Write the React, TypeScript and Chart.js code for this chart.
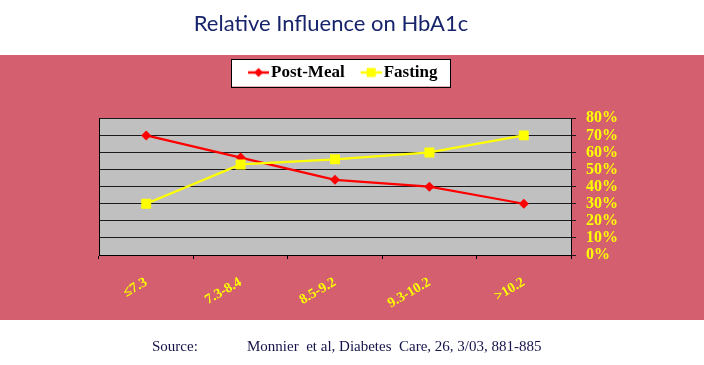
import { useEffect, useRef } from 'react';
import { Chart, registerables } from 'chart.js';

Chart.register(...registerables);

const chartTitle = 'Relative Influence on HbA1c';
const categories = ['≤7.3', '7.3-8.4', '8.5-9.2', '9.3-10.2', '>10.2'];
const seriesNames = ['Post-Meal', 'Fasting'];
const postMeal = [70, 57, 44, 40, 30];
const fasting = [30, 53, 56, 60, 70];
const yMin = 0;
const yMax = 80;
const yStep = 10;
const sourceLabel = 'Source:';
const sourceText = 'Monnier  et al, Diabetes  Care, 26, 3/03, 881-885';

const PINK = '#D35F6F';
const GRAY = '#C0C0C0';
const RED = '#FF0000';
const YELLOW = '#FFFF00';

function makeIcon(color: string, shape: 'diamond' | 'square') {
  const c = document.createElement('canvas');
  c.width = 29;
  c.height = 12;
  const g = c.getContext('2d')!;
  g.strokeStyle = color;
  g.lineWidth = 2.5;
  g.beginPath();
  g.moveTo(8, 6);
  g.lineTo(29, 6);
  g.stroke();
  g.fillStyle = color;
  const cx = 18.5;
  if (shape === 'diamond') {
    g.beginPath();
    g.moveTo(cx, 1.5);
    g.lineTo(cx + 4.5, 6);
    g.lineTo(cx, 10.5);
    g.lineTo(cx - 4.5, 6);
    g.closePath();
    g.fill();
  } else {
    g.fillRect(cx - 4.5, 1.5, 9, 9);
  }
  return c;
}

const decorPlugin = {
  id: 'decor',
  beforeDraw(chart: any) {
    const { ctx, chartArea, width, height } = chart;
    ctx.save();
    ctx.fillStyle = '#FFFFFF';
    ctx.fillRect(0, 0, width, height);
    ctx.fillStyle = PINK;
    ctx.fillRect(0, 55, width, 265);
    ctx.fillStyle = GRAY;
    ctx.fillRect(chartArea.left, chartArea.top, chartArea.right - chartArea.left, chartArea.bottom - chartArea.top);
    const hb = chart.legend && chart.legend.legendHitBoxes;
    if (hb && hb.length) {
      const l = Math.min(...hb.map((h: any) => h.left)) - 15.5;
      const r = Math.max(...hb.map((h: any) => h.left + h.width)) + 13;
      const t = Math.min(...hb.map((h: any) => h.top)) - 5;
      const b = Math.max(...hb.map((h: any) => h.top + h.height)) + 5.5;
      ctx.fillStyle = '#FFFFFF';
      ctx.fillRect(l, t, r - l, b - t);
      ctx.strokeStyle = '#000';
      ctx.lineWidth = 1;
      ctx.strokeRect(Math.round(l) + 0.5, Math.round(t) + 0.5, Math.round(r - l), Math.round(b - t));
    }
    ctx.restore();
  },
  afterDraw(chart: any) {
    const { ctx } = chart;
    ctx.save();
    ctx.fillStyle = '#17246B';
    ctx.font = '22px Lato';
    ctx.textAlign = 'center';
    ctx.textBaseline = 'alphabetic';
    ctx.fillText(chartTitle, 331, 31);
    ctx.fillStyle = '#14144A';
    ctx.font = '15px "Liberation Serif"';
    ctx.textAlign = 'left';
    ctx.fillText(sourceLabel, 152, 351);
    ctx.fillText(sourceText, 247, 351);
    ctx.restore();
  },
};

export default function App() {
  const ref = useRef<HTMLCanvasElement>(null);
  useEffect(() => {
    document.body.style.margin = '0';
    const icons = [makeIcon(RED, 'diamond'), makeIcon(YELLOW, 'square')];
    const chart = new Chart(ref.current!, {
      type: 'line',
      data: {
        labels: categories,
        datasets: [
          {
            label: seriesNames[0],
            data: postMeal,
            borderColor: RED,
            backgroundColor: RED,
            borderWidth: 2.25,
            pointStyle: 'rectRot',
            pointRadius: 5,
            pointBorderWidth: 0,
            pointBackgroundColor: RED,
            tension: 0,
            order: 1,
            xAxisID: 'x',
            yAxisID: 'y',
          },
          {
            label: seriesNames[1],
            data: fasting,
            borderColor: YELLOW,
            backgroundColor: YELLOW,
            borderWidth: 2.25,
            pointStyle: 'rect',
            pointRadius: 7,
            pointBorderWidth: 0,
            pointBackgroundColor: YELLOW,
            tension: 0,
            order: 0,
            xAxisID: 'x',
            yAxisID: 'y',
          },
        ],
      },
      options: {
        responsive: false,
        animation: false,
        devicePixelRatio: 1,
        layout: { padding: { top: 49.5, left: 58, right: 78, bottom: 50 } },
        plugins: {
          title: { display: false },
          tooltip: { enabled: false },
          legend: {
            display: true,
            position: 'top',
            labels: {
              usePointStyle: true,
              pointStyleWidth: 16,
              padding: 14.5,
              color: '#000',
              font: { family: '"Liberation Serif"', size: 17, weight: 'bold' },
              generateLabels: (c: any) =>
                c.data.datasets.map((ds: any, i: number) => ({
                  text: ds.label,
                  pointStyle: icons[i],
                  fillStyle: ds.borderColor,
                  strokeStyle: ds.borderColor,
                  lineWidth: 0,
                  hidden: false,
                  datasetIndex: i,
                  fontColor: '#000',
                })),
            },
          },
        },
        scales: {
          x: {
            type: 'category',
            position: 'bottom',
            offset: true,
            grid: { display: true, drawOnChartArea: false, drawTicks: true, tickLength: 4, color: '#000', offset: true },
            border: { display: true, color: '#000', width: 1 },
            ticks: {
              color: YELLOW,
              font: { family: '"Liberation Serif"', size: 14, weight: 'bold' },
              minRotation: 30,
              maxRotation: 30,
              padding: 15,
              autoSkip: false,
            },
            afterFit: (s: any) => {
              s.height = 60;
            },
          },
          xTop: {
            type: 'category',
            position: 'top',
            display: true,
            grid: { display: false },
            border: { display: false },
            ticks: { display: false },
            afterFit: (s: any) => {
              s.height = 27.3;
            },
          },
          yLeft: {
            type: 'linear',
            position: 'left',
            display: true,
            grid: { display: false },
            border: { display: true, color: '#000', width: 1 },
            ticks: { display: false },
            afterFit: (s: any) => {
              s.width = 41;
            },
          },
          y: {
            type: 'linear',
            position: 'right',
            min: yMin,
            max: yMax,
            ticks: {
              stepSize: yStep,
              autoSkip: false,
              color: YELLOW,
              padding: 10,
              font: { family: '"Liberation Serif"', size: 16, weight: 'bold', lineHeight: 1 },
              callback: (v: any) => v + '%',
            },
            grid: { color: '#1a1a1a', lineWidth: 1, tickLength: 5, drawTicks: true },
            border: { display: true, color: '#000', width: 1 },
            afterFit: (s: any) => {
              s.width = 55;
            },
          },
        },
      },
      plugins: [decorPlugin],
    });
    return () => chart.destroy();
  }, []);
  return (
    <div style={{ width: 704, height: 365, position: 'relative' }}>
      <canvas ref={ref} width={704} height={365} style={{ width: 704, height: 365, display: 'block' }} />
    </div>
  );
}
